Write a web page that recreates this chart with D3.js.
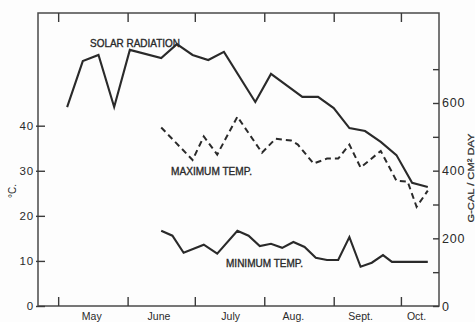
<!DOCTYPE html>
<html>
<head>
<meta charset="utf-8">
<script src="https://cdn.jsdelivr.net/npm/d3@7"></script>
<style>
  html, body { margin: 0; padding: 0; background: #fdfdfd; }
  svg { display: block; }
  text { font-family: "Liberation Sans", Arial, sans-serif; fill: #2a2a2a; }
</style>
</head>
<body>
<svg id="chart" width="475" height="322"></svg>
<script>
// ---- data -------------------------------------------------------------
// Solar radiation, weekly, g-cal / cm² / day
const solarDates  = ["05-05","05-12","05-19","05-26","06-02","06-16","06-23","06-30",
                     "07-07","07-14","07-28","08-04","08-18","08-25","09-01","09-08",
                     "09-15","09-22","09-29","10-06","10-13"];
const solarValues = [588, 724, 742, 588, 757, 733, 774, 742,
                     727, 751, 603, 686, 618, 618, 585, 526,
                     517, 485, 446, 364, 352];

// Maximum air temperature, °C
const maxDates  = ["06-16","06-30","07-05","07-11","07-20","07-31","08-06","08-13",
                   "08-16","08-23","08-29","09-03","09-08","09-13","09-22","09-29",
                   "10-04","10-08","10-13"];
const maxValues = [39.6, 32.4, 37.6, 33.6, 42.0, 34.0, 37.1, 36.7,
                   35.8, 31.6, 32.7, 32.7, 35.8, 30.7, 34.4, 27.8,
                   27.6, 22.0, 25.6];

// Minimum air temperature, °C
const minDates  = ["06-16","06-21","06-26","07-05","07-11","07-20","07-25","07-30",
                   "08-04","08-09","08-14","08-19","08-24","08-29","09-03","09-08",
                   "09-13","09-18","09-23","09-27","10-13"];
const minValues = [16.7, 15.6, 11.8, 13.6, 11.6, 16.7, 15.6, 13.3,
                   13.8, 12.9, 14.2, 13.1, 10.7, 10.2, 10.2, 15.3,
                   8.7, 9.6, 11.3, 9.8, 9.8];

// Axis labelling
const monthStarts = ["05-01","06-01","07-01","08-01","09-01","10-01"];
const monthNames  = ["May", "June", "July", "Aug.", "Sept.", "Oct."];
const monthLabelDates = ["05-16","06-15","07-17","08-14","09-13","10-08"];
const tempTicks   = [0, 10, 20, 30, 40];
const calTicks    = [0, 100, 200, 300, 400, 500, 600, 700];

// ---- layout -----------------------------------------------------------
const YEAR = 1960;
const parse = s => d3.timeParse("%Y-%m-%d")(YEAR + "-" + s);
const plot = { left: 38, right: 439, top: 13, bottom: 306 };

const x = d3.scaleTime()
  .domain([parse("04-22"), parse("10-18")])
  .range([plot.left, plot.right]);
const yC = d3.scaleLinear().domain([0, 65]).range([plot.bottom, plot.top]);
const yCal = d3.scaleLinear().domain([0, 866]).range([plot.bottom, plot.top]);

const svg = d3.select("#chart");
const ink = "#2a2a2a";

// frame
svg.append("rect")
  .attr("x", plot.left).attr("y", plot.top)
  .attr("width", plot.right - plot.left).attr("height", plot.bottom - plot.top)
  .attr("fill", "none").attr("stroke", "#4a4a4a").attr("stroke-width", 1.5);

function styleAxis(g) {
  g.select(".domain").remove();
  g.selectAll(".tick line").attr("stroke", "#3a3a3a").attr("stroke-width", 1.4);
  g.selectAll(".tick text").attr("fill", "#333").style("font-family", "Liberation Sans, Arial, sans-serif");
}

// left temperature axis
svg.append("g")
  .attr("transform", `translate(${plot.left},0)`)
  .call(d3.axisLeft(yC).tickValues(tempTicks).tickSize(-7).tickPadding(4))
  .call(styleAxis)
  .call(g => g.selectAll(".tick line").attr("x1", -2))
  .call(g => g.selectAll(".tick text").style("font-size", "11.5px").attr("letter-spacing", "0.8"));

// right radiation axis
svg.append("g")
  .attr("transform", `translate(${plot.right},0)`)
  .call(d3.axisRight(yCal).tickValues(calTicks).tickSize(-6).tickPadding(3)
        .tickFormat(d => d % 200 === 0 ? d : ""))
  .call(styleAxis)
  .call(g => g.selectAll(".tick text").style("font-size", "12.5px").attr("letter-spacing", "0.8"));

// month ticks, top and bottom
const monthTickDates = monthStarts.map(parse);
svg.append("g")
  .attr("transform", `translate(0,${plot.top})`)
  .call(d3.axisTop(x).tickValues(monthTickDates).tickSize(-9).tickFormat(""))
  .call(styleAxis);
svg.append("g")
  .attr("transform", `translate(0,${plot.bottom})`)
  .call(d3.axisBottom(x).tickValues(monthTickDates).tickSize(-9).tickFormat(""))
  .call(styleAxis);

// month names
svg.append("g").selectAll("text")
  .data(monthNames)
  .join("text")
  .attr("x", (d, i) => x(parse(monthLabelDates[i])))
  .attr("y", 320)
  .attr("text-anchor", "middle")
  .style("font-size", "10.5px")
  .text(d => d);

// axis titles
svg.append("text")
  .attr("transform", "translate(16,191) rotate(-90)")
  .attr("text-anchor", "middle")
  .style("font-size", "10px")
  .text("°C.");
svg.append("text")
  .attr("transform", "translate(474,178) rotate(-90)")
  .attr("text-anchor", "middle")
  .attr("textLength", 89).attr("lengthAdjust", "spacingAndGlyphs")
  .attr("stroke", ink).attr("stroke-width", 0.25)
  .style("font-size", "9.5px")
  .text("G-CAL / CM² DAY");

// ---- series -----------------------------------------------------------
function series(dates, values) {
  return dates.map((d, i) => ({ date: parse(d), value: values[i] }));
}
const lineCal = d3.line().x(d => x(d.date)).y(d => yCal(d.value));
const lineC = d3.line().x(d => x(d.date)).y(d => yC(d.value));

svg.append("path")
  .datum(series(solarDates, solarValues))
  .attr("d", lineCal)
  .attr("fill", "none").attr("stroke", ink).attr("stroke-width", 2.1)
  .attr("stroke-linejoin", "miter");

svg.append("path")
  .datum(series(maxDates, maxValues))
  .attr("d", lineC)
  .attr("fill", "none").attr("stroke", ink).attr("stroke-width", 2)
  .attr("stroke-dasharray", "6,4");

svg.append("path")
  .datum(series(minDates, minValues))
  .attr("d", lineC)
  .attr("fill", "none").attr("stroke", ink).attr("stroke-width", 2.1);

// series labels
const seriesLabels = [
  { text: "SOLAR RADIATION", x: 90, y: 47, len: 90 },
  { text: "MAXIMUM TEMP.",   x: 171, y: 175, len: 81 },
  { text: "MINIMUM TEMP.",   x: 226, y: 267, len: 77 }
];
svg.append("g").selectAll("text")
  .data(seriesLabels)
  .join("text")
  .attr("x", d => d.x).attr("y", d => d.y)
  .attr("textLength", d => d.len).attr("lengthAdjust", "spacingAndGlyphs")
  .attr("stroke", ink).attr("stroke-width", 0.35)
  .style("font-size", "10.5px")
  .text(d => d.text);
</script>
</body>
</html>
